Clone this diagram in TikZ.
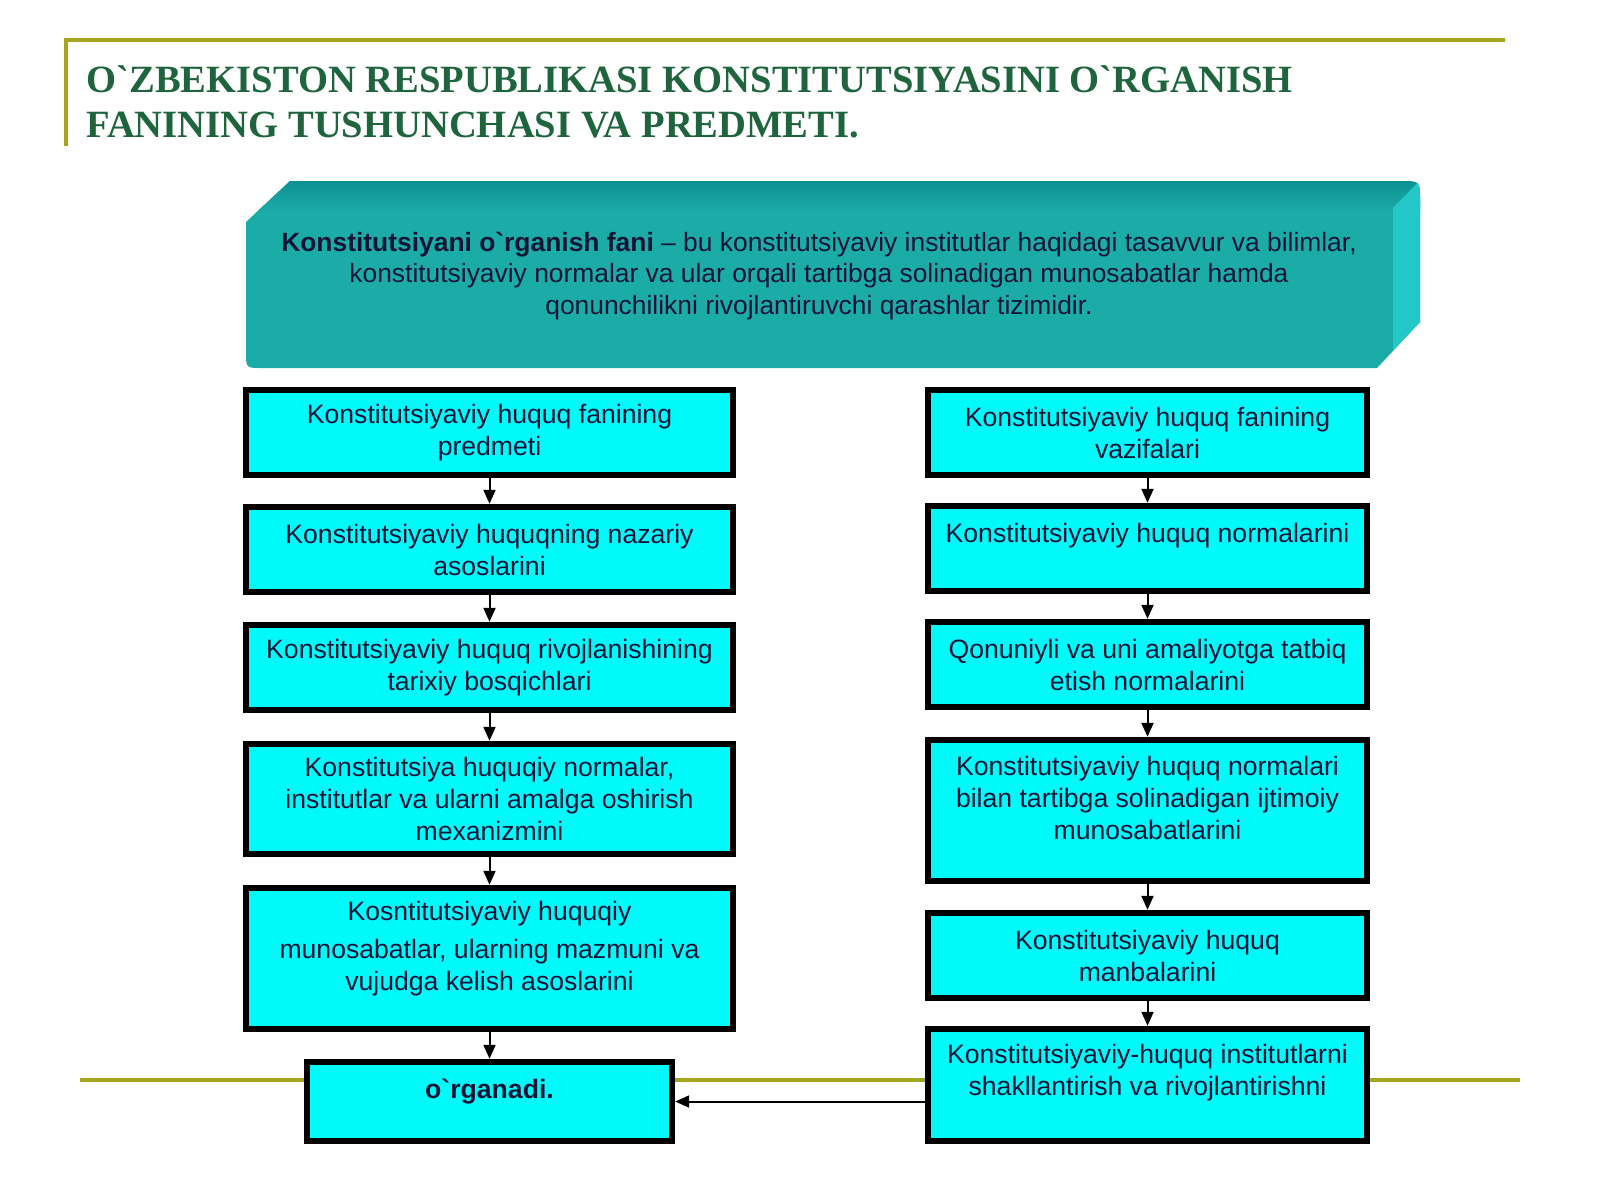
\documentclass[tikz,border=0pt]{standalone}
\usepackage{fontspec}
\setmainfont{Liberation Sans}
\newfontfamily\titlefont{Liberation Serif}
\usetikzlibrary{arrows.meta}
\definecolor{olivel}{RGB}{165,165,30}
\definecolor{titlegreen}{RGB}{30,100,60}
\definecolor{tealmain}{RGB}{28,172,168}
\definecolor{tealdark}{RGB}{10,140,140}
\definecolor{teallight}{RGB}{34,200,200}
\definecolor{boxcyan}{RGB}{0,250,250}
\definecolor{navy}{RGB}{20,20,55}
\begin{document}
\begin{tikzpicture}[x=0.5pt,y=-0.5pt,
  box/.style={draw=black, line width=3.2pt, fill=boxcyan, inner sep=0pt, align=center,
    text=navy, font=\fontsize{13.3}{16}\selectfont},
  lbox/.style={box, minimum width=243.5pt},
  rbox/.style={box, minimum width=219.5pt},
  arr/.style={line width=1pt, -{Triangle[length=7pt,width=6pt]}}]
\useasboundingbox (0,0) rectangle (1600,1200);
\fill[white] (0,0) rectangle (1600,1200);
% title frame
\draw[olivel, line width=1.6pt] (66,146) -- (66,40) -- (1505,40);
\node[anchor=base west, align=left, inner sep=0pt, text=titlegreen,
  font=\titlefont\bfseries\fontsize{19.3}{22.5}\selectfont] (title) at (86,137)
  {O\textasciigrave ZBEKISTON RESPUBLIKASI KONSTITUTSIYASINI O\textasciigrave RGANISH\\FANINING TUSHUNCHASI VA PREDMETI.};
% banner
\begin{scope}
  \path[clip] (246,222) -- (290,181) -- (1400,181) .. controls (1420,181) .. (1420,201)
    -- (1420,322) -- (1377,368) -- (262,368) .. controls (246,368) .. (246,352) -- cycle;
  \fill[tealmain] (240,175) rectangle (1425,375);
  \shade[top color=tealdark, bottom color=tealmain] (240,175) rectangle (1425,212);
  \fill[teallight] (1393,208) -- (1425,175) -- (1425,375) -- (1393,375) -- cycle;
\end{scope}
\node[anchor=base, align=center, inner sep=0pt, text=navy,
  font=\fontsize{13.2}{15.6}\selectfont] (def) at (819,314)
  {\textbf{Konstitutsiyani o\textasciigrave rganish fani} – bu konstitutsiyaviy institutlar haqidagi tasavvur va bilimlar,\\
   konstitutsiyaviy normalar va ular orqali tartibga solinadigan munosabatlar hamda\\
   qonunchilikni rivojlantiruvchi qarashlar tizimidir.};
% olive line
\draw[olivel, line width=1.8pt] (80,1080) -- (1520,1080);
% left column
\node[lbox, minimum height=42.5pt] (L1) at (489.5,432.5) {Konstitutsiyaviy huquq fanining\\predmeti};
\node[lbox, minimum height=42.5pt] (L2) at (489.5,549.5) {Konstitutsiyaviy huquqning nazariy\\asoslarini};
\node[lbox, minimum height=42.5pt] (L3) at (489.5,667.5) {Konstitutsiyaviy huquq rivojlanishining\\tarixiy bosqichlari};
\node[lbox, minimum height=55pt] (L4) at (489.5,799) {Konstitutsiya huquqiy normalar,\\institutlar va ularni amalga oshirish\\mexanizmini};
\node[lbox, minimum height=70.5pt] (L5) at (489.5,958.5) {Kosntitutsiyaviy huquqiy\\[3pt]munosabatlar, ularning mazmuni va\\vujudga kelish asoslarini\\[-3pt]\mbox{}};
\node[box, minimum width=182.5pt, minimum height=39.5pt] (O) at (489.5,1101.5) {\textbf{o\textasciigrave rganadi.}\\[-3pt]\mbox{}};
% right column
\node[rbox, minimum height=42.5pt] (R1) at (1147.5,432.5) {Konstitutsiyaviy huquq fanining\\vazifalari};
\node[rbox, minimum height=42.5pt] (R2) at (1147.5,548.5) {Konstitutsiyaviy huquq normalarini\\\mbox{}};
\node[rbox, minimum height=42.5pt] (R3) at (1147.5,664.5) {Qonuniyli va uni amaliyotga tatbiq\\etish normalarini};
\node[rbox, minimum height=70.5pt] (R4) at (1147.5,810.5) {Konstitutsiyaviy huquq normalari\\bilan tartibga solinadigan ijtimoiy\\munosabatlarini\\[-3pt]\mbox{}};
\node[rbox, minimum height=42.5pt] (R5) at (1147.5,955.5) {Konstitutsiyaviy huquq\\manbalarini};
\node[rbox, minimum height=56pt] (R6) at (1147.5,1085) {Konstitutsiyaviy-huquq institutlarni\\shakllantirish va rivojlantirishni\\[-1pt]\mbox{}};
% arrows
\draw[arr] (L1) -- (L2);
\draw[arr] (L2) -- (L3);
\draw[arr] (L3) -- (L4);
\draw[arr] (L4) -- (L5);
\draw[arr] (L5) -- (O);
\draw[arr] (R1) -- (R2);
\draw[arr] (R2) -- (R3);
\draw[arr] (R3) -- (R4);
\draw[arr] (R4) -- (R5);
\draw[arr] (R5) -- (R6);
\draw[arr] (R6.west |- O.east) -- (O.east);
\end{tikzpicture}
\end{document}
